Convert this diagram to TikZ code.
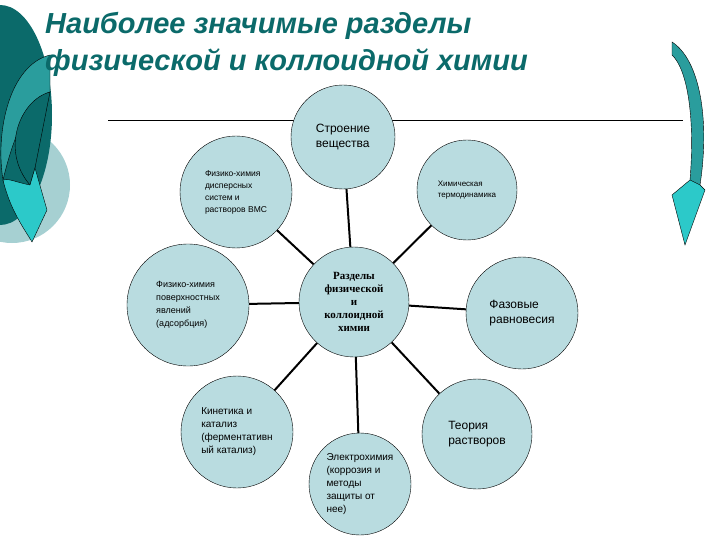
\documentclass[tikz,border=0pt]{standalone}
\usepackage{fontspec}
\setmainfont{Liberation Sans}
\newfontfamily\serifb{Liberation Serif}
\begin{document}
\begin{tikzpicture}[x=1pt,y=-1pt,
 circ/.style={circle,draw=black,thin,fill=bub,minimum size=#1,inner sep=0pt,align=left,font=\fontsize{8}{10}\selectfont},
 link/.style={line width=2pt}]
\definecolor{bub}{HTML}{B9DCE0}
\definecolor{teal1}{HTML}{0B6A6A}
\definecolor{teal2}{HTML}{2A9D9D}
\definecolor{teal3}{HTML}{2CC9C9}
\definecolor{teal4}{HTML}{A6D0D2}
\useasboundingbox (0,0) rectangle (720,540);
% left decoration
\fill[teal4] (12,185) circle (58);
\fill[teal1] (0,115) ellipse (52 and 110);
\draw[fill=teal2] (50,55) .. controls (10,65) and (-5,130) .. (3,180) .. controls (15,130) and (30,100) .. (50,92) -- cycle;
\draw[fill=teal1] (50,92) .. controls (20,100) and (0,150) .. (30,185) -- (35,168) -- cycle;
\draw[fill=teal3] (3,180) .. controls (10,210) and (25,230) .. (32,242) -- (47,210) -- (35,168) -- (30,185) .. controls (15,182) and (8,178) .. (3,180);
% right arrow
\draw[fill=teal2] (672,42) .. controls (700,60) and (710,120) .. (700,185) -- (690,180) .. controls (695,120) and (688,70) .. (672,55) -- cycle;
\draw[fill=teal3] (700,185) -- (705,190) -- (685,245) -- (672,195) -- (690,180) -- cycle;
% title
\node[anchor=west,font=\bfseries\itshape\fontsize{29}{37}\selectfont,text=teal1,align=left,inner sep=0pt] (title) at (45,44)
 {Наиболее значимые разделы\\физической и коллоидной химии};
\coordinate (l1) at (108,120); \coordinate (l2) at (683,120);
\draw[thin] (l1) -- (l2);
% nodes
\node[circ=110pt,align=center,font=\serifb\bfseries\fontsize{11}{13}\selectfont] (c) at (354,302) {Разделы\\физической\\и\\коллоидной\\химии};
\node[circ=104pt,font=\fontsize{12}{15}\selectfont] (n1) at (343,137) {Строение\\вещества};
\node[circ=100pt,font=\fontsize{8}{11}\selectfont] (n2) at (467,190) {Химическая\\термодинамика};
\node[circ=112pt,font=\fontsize{12}{15}\selectfont] (n3) at (522,313) {Фазовые\\равновесия};
\node[circ=110pt,font=\fontsize{12}{15}\selectfont] (n4) at (477,434) {Теория\\растворов};
\node[circ=102pt,font=\fontsize{10}{13}\selectfont] (n5) at (360,484) {Электрохимия\\(коррозия и\\методы\\защиты от\\нее)};
\node[circ=112pt,font=\fontsize{10}{13}\selectfont] (n6) at (237,432) {Кинетика и\\катализ\\(ферментативн\\ый катализ)};
\node[circ=122pt,font=\fontsize{9}{13}\selectfont] (n7) at (188,305) {Физико-химия\\поверхностных\\явлений\\(адсорбция)};
\node[circ=112pt,font=\fontsize{8.5}{12}\selectfont] (n8) at (236,192) {Физико-химия\\дисперсных\\систем и\\растворов ВМС};
\foreach \n in {n1,n2,n3,n4,n5,n6,n7,n8} \draw[link] (c) -- (\n);
\end{tikzpicture}
\end{document}
